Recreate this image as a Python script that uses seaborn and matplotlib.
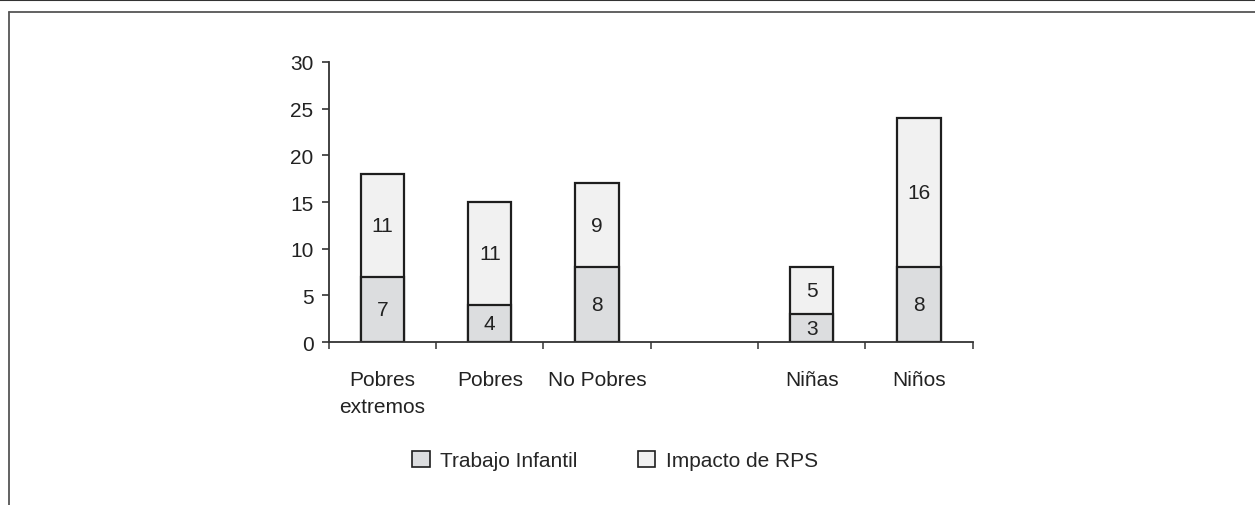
import matplotlib
matplotlib.use("Agg")
import matplotlib.pyplot as plt
from matplotlib.lines import Line2D
from matplotlib.patches import Patch
import seaborn as sns
import pandas as pd

# Data
categories = ["Pobres\nextremos", "Pobres", "No Pobres", "Niñas", "Niños"]
trabajo_infantil = [7, 4, 8, 3, 8]
impacto_rps = [11, 11, 9, 5, 16]
order = ["Pobres\nextremos", "Pobres", "No Pobres", " ", "Niñas", "Niños"]
yticks = [0, 5, 10, 15, 20, 25, 30]

sns.set_theme(style="white")
plt.rcParams["font.family"] = ["Liberation Sans", "DejaVu Sans"]

df = pd.DataFrame({
    "categoria": categories,
    "trabajo": trabajo_infantil,
    "impacto": impacto_rps,
})
df["total"] = df["trabajo"] + df["impacto"]

fig = plt.figure(figsize=(12.55, 5.06), dpi=100)
ax = fig.add_axes([0.262, 0.322, 0.513, 0.5535])

edge = "#1e1e1e"
top_color = "#f1f1f1"
bottom_color = "#dcdddf"
fs = 15

# Total height first (light upper segment), then the lower segment on top
sns.barplot(data=df, x="categoria", y="total", order=order, color=top_color,
            width=0.405, edgecolor=edge, linewidth=1.6,
            saturation=1, ax=ax)
sns.barplot(data=df, x="categoria", y="trabajo", order=order, color=bottom_color,
            width=0.405, edgecolor=edge, linewidth=1.6,
            saturation=1, ax=ax)

# Segment value labels
pos = {c: i for i, c in enumerate(order)}
for c, t, r in zip(categories, trabajo_infantil, impacto_rps):
    x = pos[c]
    ax.text(x, t / 2, str(t), ha="center", va="center", fontsize=fs, color="#222222")
    ax.text(x, t + r / 2, str(r), ha="center", va="center", fontsize=fs, color="#222222")

ax.set_xlim(-0.5, len(order) - 0.5)
ax.set_ylim(0, 30)
ax.set_yticks(yticks)
ax.set_xlabel("")
ax.set_ylabel("")

for s in ["top", "right"]:
    ax.spines[s].set_visible(False)
for s in ["left", "bottom"]:
    ax.spines[s].set_color("#333333")
    ax.spines[s].set_linewidth(1.3)

ax.tick_params(axis="y", which="major", direction="out", length=5, width=1.2,
               color="#333333", labelsize=fs, labelcolor="#222222", pad=6, left=True)
ax.tick_params(axis="x", which="major", length=0, labelsize=fs,
               labelcolor="#222222", pad=20)
ax.set_xticks(range(len(order)), order)
for lbl in ax.get_xticklabels():
    lbl.set_linespacing(1.55)
ax.set_xticks([i - 0.5 for i in range(len(order) + 1)], minor=True)
ax.tick_params(axis="x", which="minor", direction="out", length=5, width=1.1,
               color="#333333", bottom=True)

# Legend
handles = [
    Patch(facecolor=bottom_color, edgecolor=edge, linewidth=1.2, label="Trabajo Infantil"),
    Patch(facecolor=top_color, edgecolor=edge, linewidth=1.2, label="Impacto de RPS"),
]
fig.legend(handles=handles, loc="center", bbox_to_anchor=(0.49, 0.088), ncol=2,
           frameon=False, fontsize=fs, handlelength=0.85, handleheight=0.85,
           handletextpad=0.5, columnspacing=2.9)

# Page rules around the figure
fig.add_artist(Line2D([0, 1], [0.998, 0.998], transform=fig.transFigure,
                      color="#333333", linewidth=1.5))
fig.add_artist(Line2D([0.0068, 1], [0.974, 0.974], transform=fig.transFigure,
                      color="#555555", linewidth=1.3))
fig.add_artist(Line2D([0.0068, 0.0068], [0, 0.974], transform=fig.transFigure,
                      color="#555555", linewidth=1.3))

fig.savefig("out.png", dpi=100, facecolor="white")
